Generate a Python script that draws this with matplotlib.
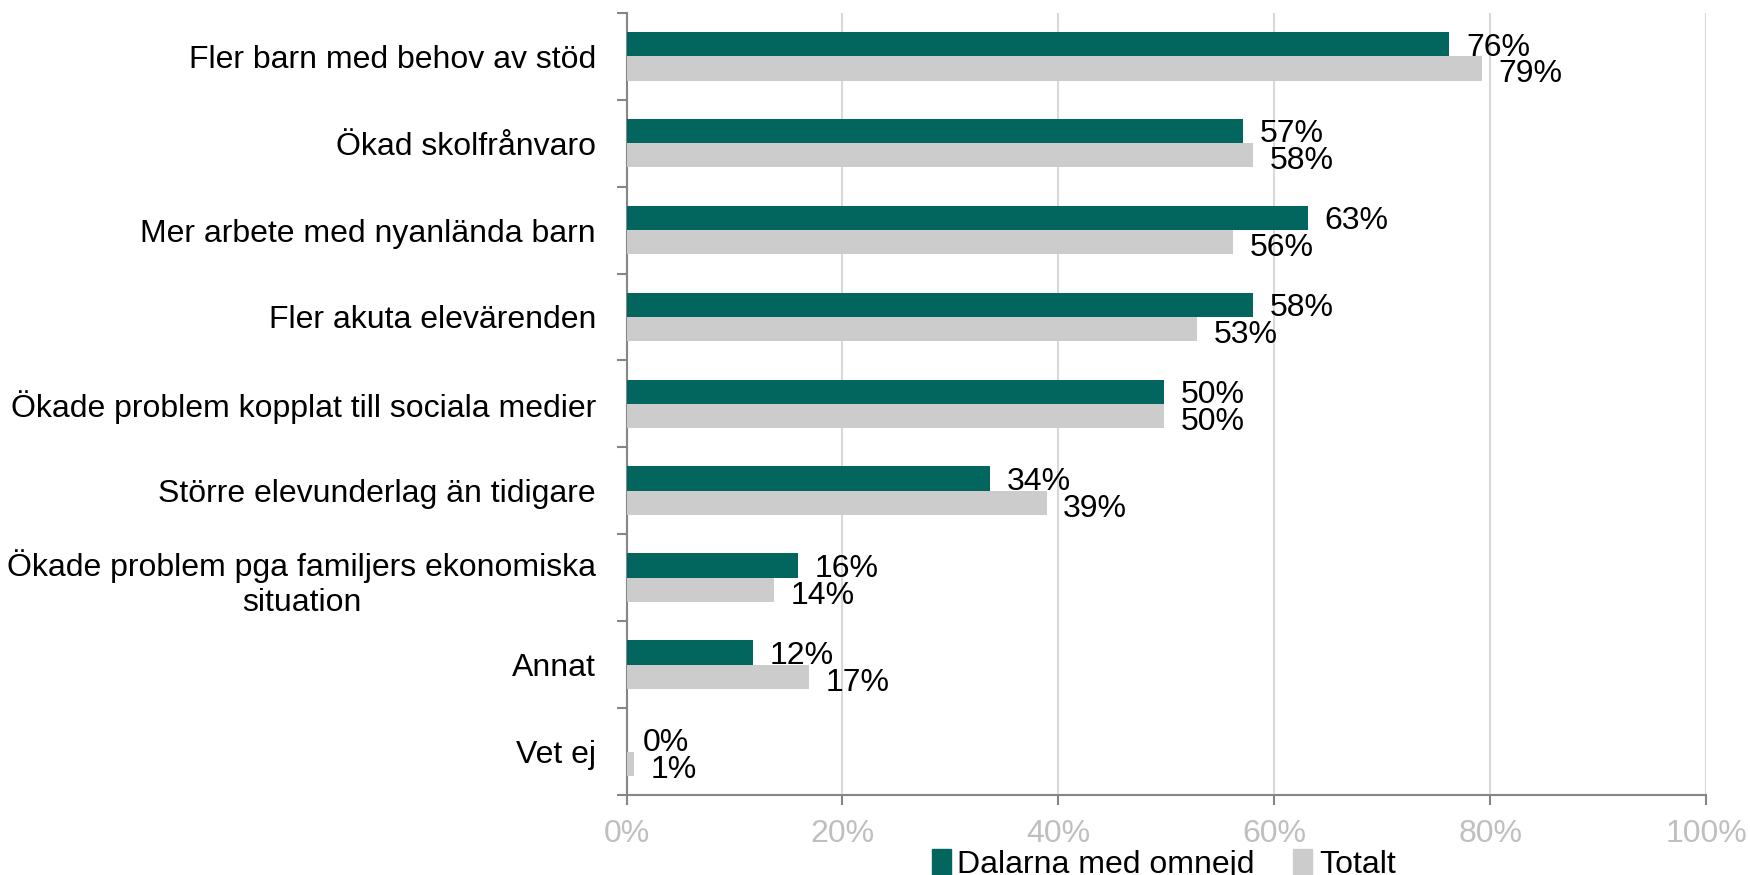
import numpy as np
import matplotlib.pyplot as plt
from matplotlib.patches import Patch

plt.rcParams['font.family'] = ['Liberation Sans', 'DejaVu Sans']
plt.rcParams['font.size'] = 23

categories = ['Fler barn med behov av stöd',
              'Ökad skolfrånvaro',
              'Mer arbete med nyanlända barn',
              'Fler akuta elevärenden',
              'Ökade problem kopplat till sociala medier',
              'Större elevunderlag än tidigare',
              'Ökade problem pga familjers ekonomiska\nsituation',
              'Annat',
              'Vet ej']
dalarna = [76.2, 57.1, 63.1, 58.0, 49.8, 33.7, 15.9, 11.7, 0.0]
totalt = [79.2, 58.0, 56.2, 52.8, 49.8, 38.9, 13.7, 16.9, 0.7]
x_ticks = [0, 20, 40, 60, 80, 100]

teal = '#02665f'
grey = '#cccccc'
axis_grey = '#868686'

fig = plt.figure(figsize=(17.5, 8.75), dpi=100)
ax = fig.add_axes([0.358, 0.0914, 0.617, 0.894])

y = np.arange(len(categories))
h = 0.28
ax.barh(y - h/2, dalarna, height=h, color=teal, zorder=3)
ax.barh(y + h/2, totalt, height=h, color=grey, zorder=3)

for yi, v in zip(y, dalarna):
    ax.annotate('%d%%' % round(v), (v, yi - h/2 + 0.04), xytext=(12, 0),
                textcoords='offset points', ha='left', va='center')
for yi, v in zip(y, totalt):
    ax.annotate('%d%%' % round(v), (v, yi + h/2 + 0.07), xytext=(12, 0),
                textcoords='offset points', ha='left', va='center')

ax.set_xlim(0, 100)
ax.set_ylim(len(categories) - 0.5, -0.5)
ax.set_xticks(x_ticks)
ax.set_xticklabels(['%d%%' % t for t in x_ticks], color='#bfbfbf')
ax.xaxis.grid(True, color='#d9d9d9', linewidth=1.5, zorder=0)

ax.set_yticks(y)
ax.set_yticklabels(categories, multialignment='center')
ax.set_yticks(np.arange(-0.5, len(categories)), minor=True)
ax.tick_params(axis='y', which='major', length=0, pad=22)
ax.tick_params(axis='y', which='minor', length=7, width=1.5, color=axis_grey)
ax.tick_params(axis='x', length=7, width=1.5, color=axis_grey, pad=10)

for s in ['top', 'right']:
    ax.spines[s].set_visible(False)
for s in ['left', 'bottom']:
    ax.spines[s].set_color(axis_grey)
    ax.spines[s].set_linewidth(1.5)

handles = [Patch(color=teal, label='Dalarna med omnejd'),
           Patch(color=grey, label='Totalt')]
fig.legend(handles=handles, loc='center', bbox_to_anchor=(0.665, 0.012), ncol=2,
           frameon=False, handlelength=0.6, handleheight=0.9,
           handletextpad=0.2, columnspacing=1.2)

plt.savefig('out.png')
